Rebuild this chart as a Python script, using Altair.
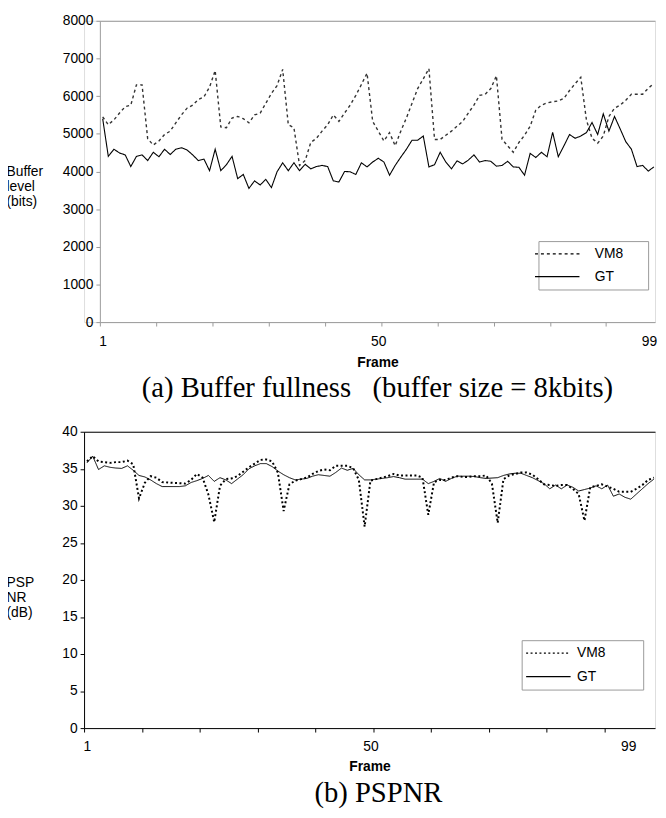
import altair as alt
import pandas as pd

frames = list(range(1, 100))
series = ["VM8", "GT"]

buf_vm8 = [5450, 5240, 5370, 5550, 5720, 5760, 6300, 6300, 4870, 4700,
           4810, 4980, 5070, 5290, 5500, 5680, 5760, 5910, 5980, 6240,
           6680, 5180, 5160, 5420, 5460, 5400, 5290, 5500, 5550, 5810,
           6070, 6280, 6710, 5240, 5160, 4160, 4290, 4770, 4880, 5070,
           5240, 5500, 5330, 5550, 5760, 6020, 6310, 6610, 5330, 5070,
           4810, 5030, 4680, 5070, 5420, 5810, 6200, 6460, 6730, 4850,
           4850, 4960, 5070, 5200, 5330, 5550, 5760, 6020, 6050, 6200,
           6540, 4850, 4680, 4510, 4770, 4960, 5200, 5630, 5760, 5820,
           5850, 5870, 5940, 6150, 6330, 6500, 5370, 4880, 4750, 4940,
           5460, 5680, 5760, 5890, 6050, 6050, 6050, 6210, 6340]
buf_gt = [5400, 4400, 4590, 4490, 4440, 4130, 4400, 4440, 4290, 4510,
          4390, 4590, 4450, 4590, 4630, 4570, 4440, 4290, 4330, 4020,
          4590, 4020, 4180, 4400, 3810, 3920, 3550, 3750, 3640, 3790,
          3570, 3990, 4230, 4020, 4230, 4020, 4190, 4070, 4130, 4160,
          4130, 3750, 3720, 4000, 3990, 3920, 4230, 4120, 4250, 4350,
          4250, 3900, 4160, 4380, 4590, 4830, 4830, 4940, 4120, 4180,
          4510, 4250, 4070, 4280, 4200, 4300, 4440, 4250, 4290, 4270,
          4140, 4160, 4270, 4120, 4110, 3900, 4480, 4370, 4510, 4390,
          5040, 4390, 4680, 4980, 4880, 4940, 5030, 5300, 4980, 5530,
          5070, 5460, 5130, 4790, 4590, 4130, 4160, 4010, 4120]

psnr_vm8 = [36.0, 36.7, 36.0, 35.9, 35.8, 35.9, 35.9, 36.1, 35.6, 31.0,
            33.1, 34.0, 33.8, 33.2, 33.15, 33.1, 33.05, 33.0, 33.5, 34.3,
            33.8, 31.5, 27.8, 32.7, 33.6, 33.7, 34.0, 34.6, 35.2, 35.7,
            36.2, 36.25, 36.0, 34.5, 29.3, 32.9, 33.4, 33.6, 33.8, 34.3,
            34.7, 34.9, 34.8, 35.4, 35.4, 35.4, 35.1, 33.5, 27.2, 33.4,
            33.6, 33.8, 34.0, 34.3, 34.1, 34.1, 34.1, 34.1, 33.8, 28.8,
            33.2, 33.5, 33.5, 33.8, 34.0, 33.9, 33.9, 34.0, 34.0, 34.1,
            33.0, 27.7, 33.6, 34.1, 34.3, 34.5, 34.5, 34.2, 33.6, 32.9,
            32.8, 32.7, 32.8, 32.8, 32.3, 31.6, 28.0, 32.5, 32.7, 32.9,
            32.6, 32.3, 31.9, 31.9, 31.9, 32.3, 32.8, 33.5, 33.8]
psnr_gt = [35.8, 36.7, 34.9, 35.4, 35.2, 35.1, 35.05, 35.4, 34.8, 34.1,
           33.9, 33.5, 33.0, 32.6, 32.6, 32.6, 32.6, 32.7, 33.15, 33.4,
           33.7, 34.1, 33.3, 33.8, 33.5, 33.0, 33.6, 34.2, 35.0, 35.4,
           35.7, 35.7, 35.3, 34.7, 34.2, 33.8, 33.5, 33.6, 33.7, 34.0,
           34.2, 34.1, 34.0, 34.5, 35.1, 34.8, 35.05, 34.2, 33.5, 33.5,
           33.6, 33.7, 33.8, 33.95, 33.8, 33.6, 33.6, 33.6, 33.6, 33.0,
           33.3, 33.7, 33.3, 33.7, 34.0, 34.0, 34.0, 33.95, 33.8, 33.7,
           33.75, 33.8, 34.1, 34.3, 34.4, 34.4, 34.1, 33.8, 33.4, 33.0,
           32.3, 32.8, 32.3, 32.8, 32.5, 32.0, 32.2, 32.4, 32.7, 32.3,
           32.8, 31.3, 31.6, 31.15, 30.9, 31.6, 32.3, 33.0, 33.6]

buf_ticks = list(range(0, 8001, 1000))
psnr_ticks = list(range(0, 41, 5))
frame_labels = [1, 50, 99]
frame_ticks = [0.5 + 10 * i for i in range(10)]

SANS = "Liberation Sans"
SERIF = "Liberation Serif"
NB = "\u00a0"
W = 578  # common panel group width


def long_df(a, b, name):
    return pd.DataFrame({
        "Frame": frames + frames,
        "Series": [series[0]] * len(frames) + [series[1]] * len(frames),
        name: a + b,
    })


def panel(df, field, ymax, yticks, ytitle, height, x0, axis_color,
          vm8_dash, vm8_width, vm8_color, gt_width, leg_x, leg_y, sym_off,
          lab_off, spacer, spacer_pad, row_pad, caption, cap_dx, title_x,
          title_y, lab_pad, title_pad, cap_offset, off99):
    xscale = alt.Scale(domain=[0.5, 99.2], range=[x0, W], nice=False, zero=False)
    yscale = alt.Scale(domain=[0, ymax], nice=False, zero=True)
    dash = alt.Scale(domain=series, range=[vm8_dash, [1, 0]])
    yaxis = alt.Axis(
        values=yticks, format="d", tickSize=4, tickColor=axis_color,
        domainColor=axis_color, offset=-x0,
        labelFont=SANS, labelFontSize=14, labelColor="black", labelPadding=3,
        grid=False,
        title=ytitle, titleAngle=0, titleAlign="left", titleBaseline="top",
        titleX=title_x, titleY=title_y, titleFont=SANS, titleFontSize=14,
        titleFontWeight="normal", titleLineHeight=15, titleColor="black",
    )
    tick_axis = alt.Axis(
        values=frame_ticks, labels=False, ticks=True, tickSize=4,
        tickColor=axis_color, domainColor=axis_color, grid=False, title=None,
        orient="bottom",
    )
    label_axis = alt.Axis(
        values=frame_labels, ticks=False, tickSize=0, domain=False, grid=False,
        labelFont=SANS, labelFontSize=14, labelColor="black", labelPadding=lab_pad,
        labelOffset={"condition": {"test": "datum.value == 99", "value": off99}, "value": 0},
        title="Frame", titleFont=SANS, titleFontSize=14, titleFontWeight="bold",
        titleColor="black", titlePadding=title_pad, orient="bottom",
    )
    border_axis = alt.Axis(
        orient="top", labels=False, ticks=False, domain=True,
        domainColor=axis_color, grid=False, title=None, minExtent=0,
    )
    # the legend "title" is an invisible white spacer that widens the box on the right,
    # like the wide legend frame of the original
    legend = alt.Legend(
        orient="none", legendX=leg_x, legendY=leg_y, direction="vertical",
        title=spacer, titleOrient="right", titleColor="white", titleFont=SANS,
        titleFontSize=14, titleFontWeight="normal", titlePadding=spacer_pad,
        symbolType="M-5,0H5", symbolSize=81, symbolStrokeWidth=1.3,
        symbolStrokeColor="black", symbolFillColor="transparent",
        symbolOffset=sym_off, labelOffset=lab_off, labelFont=SANS, labelFontSize=14,
        labelColor="black", rowPadding=row_pad, padding=6, strokeColor="#999999",
        fillColor="white",
    )
    y_enc = alt.Y(f"{field}:Q", scale=yscale, axis=yaxis)
    base = alt.Chart(df).encode(
        y=y_enc,
        strokeDash=alt.StrokeDash("Series:N", scale=dash, legend=legend, sort=series),
    )
    vm8 = base.transform_filter("datum.Series == 'VM8'").mark_line(
        color=vm8_color, strokeWidth=vm8_width, clip=True
    ).encode(x=alt.X("Frame:Q", scale=xscale, axis=tick_axis))
    gt = base.transform_filter("datum.Series == 'GT'").mark_line(
        color="black", strokeWidth=gt_width, clip=True
    ).encode(x=alt.X("Frame:Q", scale=xscale, axis=label_axis))
    border = alt.Chart(df).transform_filter("datum.Series == 'GT'").mark_line(
        strokeOpacity=0, clip=True
    ).encode(x=alt.X("Frame:Q", scale=xscale, axis=border_axis), y=y_enc)
    return alt.layer(vm8, gt, border).resolve_axis(x="independent").properties(
        width=W, height=height,
        title=alt.TitleParams(
            caption, orient="bottom", anchor="middle", frame="group",
            font=SERIF, fontSize=29, fontWeight="normal", color="black",
            offset=cap_offset, dx=cap_dx,
        ),
    )


top = panel(long_df(buf_vm8, buf_gt, "Buffer"), "Buffer", 8000, buf_ticks,
            ["Buffer", "level", "(bits)"], 305, 16, "#9a9a9a",
            [3, 3], 1.4, "#333333", 1.1, 460, 223, 6, 31, "00", 3, 9,
            f"(a) Buffer fullness{NB * 3}(buffer size = 8kbits)", 8,
            -95, 146, 13, 7, 5, -5)
bottom = panel(long_df(psnr_vm8, psnr_gt, "PSPNR"), "PSPNR", 40, psnr_ticks,
               ["PSP", "NR", "(dB)"], 300, 0, "black",
               [2, 2.5], 2.0, "black", 1.0, 443, 211, 14, 22, "0000", 0, 10,
               "(b) PSPNR", 9,
               -79, 146, 12, 6, 6, -26)

chart = alt.vconcat(top, bottom, spacing=20).properties(
    padding={"left": -3, "top": 0, "right": 0, "bottom": 0},
).resolve_scale(strokeDash="independent", x="independent", y="independent").configure_view(
    stroke=None
).configure(background="white")

chart.save("out.html", embed_options={"renderer": "svg", "actions": False})
